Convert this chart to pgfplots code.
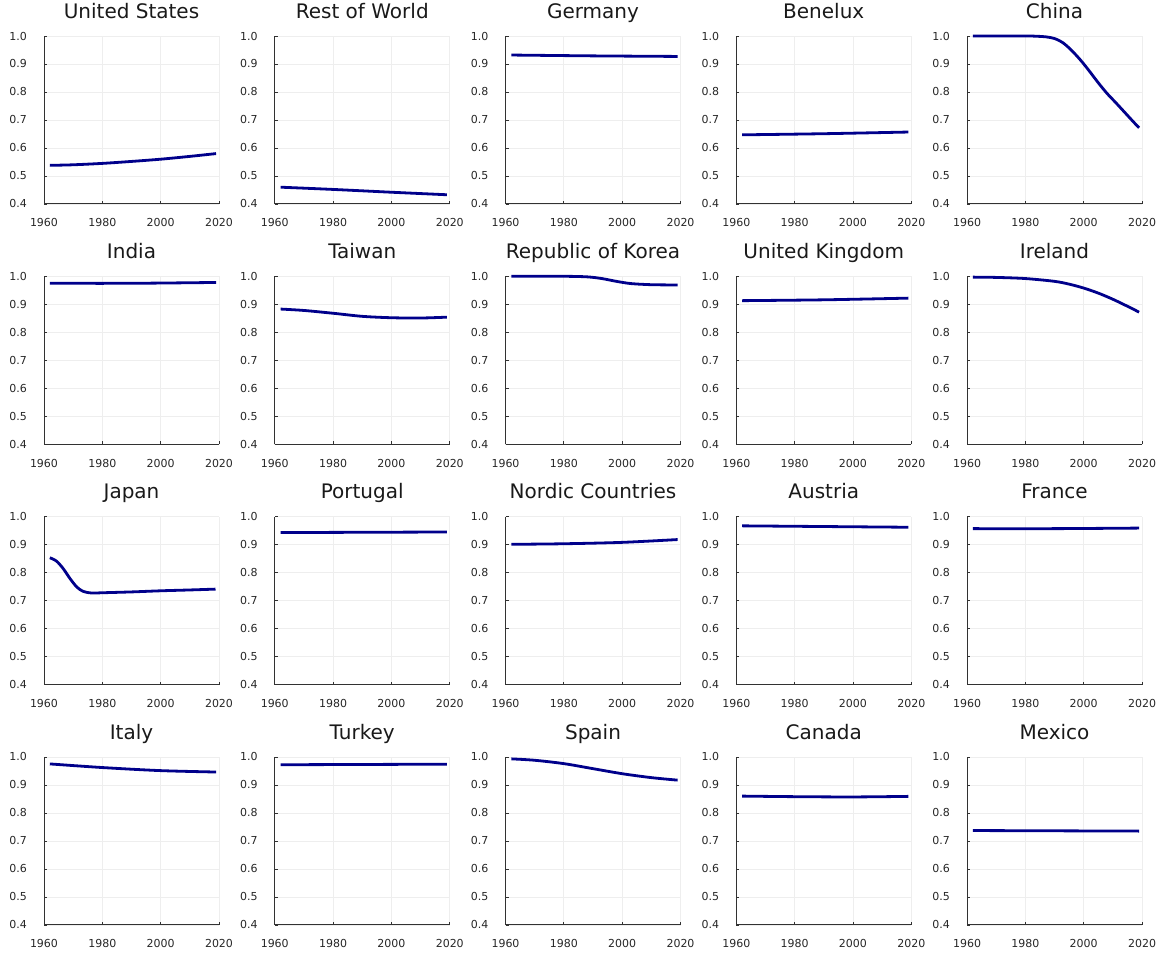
\documentclass[border=0pt]{standalone}
\usepackage{fontspec}
\setmainfont{DejaVu Sans}
\usepackage{pgfplots}
\pgfplotsset{compat=1.18}
\definecolor{linec}{RGB}{0,0,139}
\definecolor{axc}{RGB}{50,50,50}
\definecolor{gridc}{RGB}{238,238,238}
\pgfplotsset{base/.style={
  width=175bp, height=168bp, scale only axis, anchor=south west,
  xmin=1960, xmax=2020, ymin=0.4, ymax=1.0,
  xtick={1960,1980,2000,2020},
  ytick={0.4,0.5,0.6,0.7,0.8,0.9,1.0},
  yticklabels={0.4,0.5,0.6,0.7,0.8,0.9,1.0},
  xticklabels={1960,1980,2000,2020},
  axis lines*=left,
  axis line style={axc, line width=1bp},
  tick align=inside, major tick length=3bp,
  tick style={axc, line width=0.8bp},
  grid=major, major grid style={gridc, line width=0.8bp},
  ticklabel style={font=\fontsize{11bp}{11bp}\selectfont, text=black!85},
  xticklabel style={anchor=base, inner sep=0pt, yshift=-23bp},
  yticklabel style={anchor=east, inner sep=0pt, xshift=-17bp},
  title style={at={(0.5,1)}, anchor=base, inner sep=0pt, yshift=11.7bp, font=\fontsize{20bp}{24bp}\selectfont, text=black!90},
  clip=false,
}}
\newcommand{\panel}[4]{%
\begin{axis}[base, at={({44bp+#1*230.75bp},{749bp-#2*240.3bp})}, title={#3}]
\addplot[linec, line width=2.8bp, smooth, no markers] coordinates {#4};
\end{axis}}
\begin{document}
\begin{tikzpicture}
\useasboundingbox (0,0) rectangle (1159bp,953bp);
\panel{0}{0}{United States}{(1962,0.538)(1970,0.540)(1980,0.545)(1990,0.552)(2000,0.560)(2010,0.570)(2019,0.580)}
\panel{1}{0}{Rest of World}{(1962,0.460)(1980,0.452)(2000,0.442)(2019,0.433)}
\panel{2}{0}{Germany}{(1962,0.932)(1990,0.929)(2019,0.927)}
\panel{3}{0}{Benelux}{(1962,0.647)(1990,0.651)(2019,0.657)}
\panel{4}{0}{China}{(1962,1.0)(1980,1.0)(1984,0.999)(1987,0.997)(1990,0.991)(1993,0.975)(1996,0.947)(1999,0.913)(2002,0.874)(2005,0.833)(2008,0.795)(2011,0.762)(2014,0.728)(2017,0.694)(2019,0.672)}
\panel{0}{1}{India}{(1962,0.975)(1990,0.975)(2019,0.978)}
\panel{1}{1}{Taiwan}{(1962,0.883)(1970,0.878)(1980,0.868)(1990,0.857)(2000,0.852)(2010,0.851)(2019,0.854)}
\panel{2}{1}{Republic of Korea}{(1962,1.0)(1980,1.0)(1988,0.998)(1993,0.992)(1998,0.982)(2003,0.974)(2010,0.970)(2019,0.969)}
\panel{3}{1}{United Kingdom}{(1962,0.913)(1990,0.916)(2019,0.922)}
\panel{4}{1}{Ireland}{(1962,0.997)(1970,0.996)(1980,0.992)(1990,0.982)(1995,0.972)(2000,0.958)(2005,0.940)(2010,0.918)(2015,0.893)(2019,0.872)}
\panel{0}{2}{Japan}{(1962,0.853)(1964.3,0.841)(1966.6,0.814)(1968.9,0.779)(1971.2,0.749)(1973.4,0.733)(1976.3,0.727)(1980,0.728)(1990,0.731)(2000,0.735)(2010,0.738)(2018.8,0.741)}
\panel{1}{2}{Portugal}{(1962,0.943)(2019,0.945)}
\panel{2}{2}{Nordic Countries}{(1962,0.901)(1980,0.903)(2000,0.908)(2019,0.918)}
\panel{3}{2}{Austria}{(1962,0.967)(2019,0.962)}
\panel{4}{2}{France}{(1962,0.957)(1990,0.957)(2019,0.959)}
\panel{0}{3}{Italy}{(1962,0.975)(1980,0.962)(2000,0.951)(2019,0.946)}
\panel{1}{3}{Turkey}{(1962,0.972)(2019,0.974)}
\panel{2}{3}{Spain}{(1962,0.993)(1970,0.988)(1980,0.976)(1990,0.958)(2000,0.940)(2010,0.926)(2019,0.917)}
\panel{3}{3}{Canada}{(1962,0.860)(1980,0.858)(2000,0.857)(2019,0.859)}
\panel{4}{3}{Mexico}{(1962,0.737)(2019,0.735)}
\end{tikzpicture}
\end{document}
